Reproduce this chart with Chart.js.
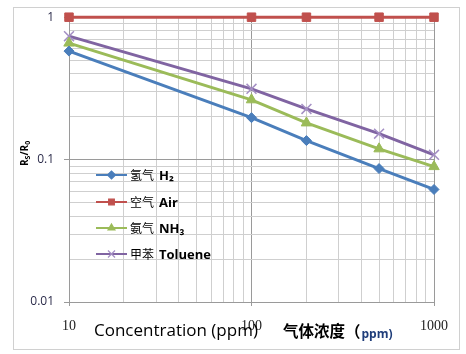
<!DOCTYPE html>
<html lang="zh">
<head>
<meta charset="UTF-8">
<title>Rs/R0 vs concentration</title>
<style>
    html, body { margin: 0; padding: 0; background: #ffffff; }
    #wrap { position: relative; width: 466px; height: 354px; }
    canvas { display: block; }
</style>
</head>
<body>
<div id="wrap"><canvas id="gasChart" width="466" height="354"></canvas></div>

<script src="https://cdn.jsdelivr.net/npm/chart.js"></script>
<script>
    // concentrations (ppm)
    const concentrations = [10, 100, 200, 500, 1000];
    // Rs/R0 per gas
    const h2Values = [0.578, 0.197, 0.136, 0.0865, 0.0617];
    const airValues = [1, 1, 1, 1, 1];
    const nh3Values = [0.658, 0.263, 0.181, 0.119, 0.0893];
    const tolueneValues = [0.736, 0.314, 0.227, 0.152, 0.108];

    const seriesCn = ['氢气', '空气', '氨气', '甲苯'];
    const seriesEn = ['H₂', 'Air', 'NH₃', 'Toluene'];

    const xTicks = [10, 20, 30, 40, 50, 60, 70, 80, 90, 100, 200, 300, 400, 500, 600, 700, 800, 900, 1000];
    const yTicks = [0.01, 0.02, 0.03, 0.04, 0.05, 0.06, 0.07, 0.08, 0.09,
                    0.1, 0.2, 0.3, 0.4, 0.5, 0.6, 0.7, 0.8, 0.9, 1];
    const xLabels = ['10', '100', '1000'];
    const yLabels = ['0.01', '0.1', '1'];

    function isMajor(v) {
        const l = Math.log10(v);
        return Math.abs(l - Math.round(l)) < 1e-9;
    }

    function toPoints(vals) {
        return concentrations.map((c, i) => ({ x: c, y: vals[i] }));
    }

    const styles = [
        { color: '#4a7ebb', point: 'rectRot', radius: 5, pointColor: '#4a7ebb' },
        { color: '#c0504d', point: 'rect', radius: 6, pointColor: '#c0504d' },
        { color: '#9bbb59', point: 'triangle', radius: 6, pointColor: '#9bbb59' },
        { color: '#8064a2', point: 'crossRot', radius: 7, pointColor: '#a48fc4' }
    ];
    const allValues = [h2Values, airValues, nh3Values, tolueneValues];

    const datasets = allValues.map((vals, i) => ({
        label: seriesCn[i] + ' ' + seriesEn[i],
        data: toPoints(vals),
        borderColor: styles[i].color,
        backgroundColor: styles[i].pointColor,
        pointBorderColor: styles[i].pointColor,
        pointBackgroundColor: styles[i].pointColor,
        pointStyle: styles[i].point,
        pointRadius: styles[i].radius,
        pointBorderWidth: i === 3 ? 1.5 : 1,
        borderWidth: 3,
        tension: 0,
        clip: false
    }));

    const extras = {
        id: 'extras',
        beforeDraw(chart) {
            const ctx = chart.ctx;
            ctx.save();
            ctx.fillStyle = '#ffffff';
            ctx.fillRect(0, 0, chart.width, chart.height);
            ctx.strokeStyle = '#d0d0d0';
            ctx.lineWidth = 1;
            ctx.strokeRect(13.5, 7.5, 446, 342);
            ctx.restore();
        },
        afterDraw(chart) {
            const ctx = chart.ctx;
            ctx.save();

            // x titles
            ctx.fillStyle = '#000000';
            ctx.textBaseline = 'alphabetic';
            ctx.textAlign = 'left';
            ctx.font = '17px "Open Sans", "Noto Sans", sans-serif';
            ctx.fillText('Concentration (ppm)', 94, 336);
            ctx.font = 'bold 15.5px "Noto Sans CJK SC", sans-serif';
            ctx.fillText('气体浓度（', 283, 337);
            let w = ctx.measureText('气体浓度（').width;
            ctx.fillStyle = '#1f3d7a';
            ctx.font = 'bold 12px "Open Sans", sans-serif';
            ctx.fillText('ppm)', 283 + w + 1, 338);

            // y title Rs/R0
            ctx.fillStyle = '#000000';
            ctx.translate(24, 152);
            ctx.rotate(-Math.PI / 2);
            ctx.textAlign = 'left';
            let xpos = -14;
            const parts = [['R', 10, 0], ['S', 7, 2], ['/R', 10, 0], ['0', 7, 2]];
            parts.forEach(p => {
                ctx.font = 'bold ' + p[1] + 'px "Open Sans", sans-serif';
                ctx.fillText(p[0], xpos, 4 + p[2]);
                xpos += ctx.measureText(p[0]).width;
            });
            ctx.setTransform(1, 0, 0, 1, 0, 0);

            // legend inside the plot
            const rows = [175, 202, 228, 254];
            chart.data.datasets.forEach((ds, i) => {
                const y = rows[i];
                ctx.strokeStyle = ds.borderColor;
                ctx.lineWidth = 2;
                ctx.beginPath();
                ctx.moveTo(96, y);
                ctx.lineTo(127, y);
                ctx.stroke();
                ctx.fillStyle = ds.pointBackgroundColor;
                ctx.strokeStyle = ds.pointBorderColor;
                ctx.lineWidth = 1.2;
                Chart.helpers.drawPoint(ctx, {
                    pointStyle: ds.pointStyle,
                    radius: ds.pointStyle === 'crossRot' ? 5 : 4,
                    rotation: 0,
                    borderWidth: 1.2
                }, 111.5, y);
                ctx.fillStyle = '#000000';
                ctx.textBaseline = 'middle';
                ctx.font = '12px "Noto Sans CJK SC", sans-serif';
                ctx.fillText(seriesCn[i], 130, y);
                const cw = ctx.measureText(seriesCn[i]).width;
                ctx.font = 'bold 13px "Open Sans", sans-serif';
                ctx.fillText(seriesEn[i], 130 + cw + 5, y + 1);
            });
            ctx.restore();
        }
    };

    const gridColor = c => isMajor(c.tick.value) ? '#9a9a9a' : '#cfcfcf';

    new Chart(document.getElementById('gasChart'), {
        type: 'line',
        data: { datasets: datasets },
        options: {
            responsive: false,
            animation: false,
            events: [],
            layout: { padding: { top: 16, right: 32, bottom: 0, left: 0 } },
            plugins: { legend: { display: false }, tooltip: { enabled: false } },
            scales: {
                x: {
                    type: 'logarithmic',
                    min: 10,
                    max: 1000,
                    afterBuildTicks: axis => { axis.ticks = xTicks.map(v => ({ value: v })); },
                    afterFit: axis => { axis.height = 52; },
                    grid: {
                        color: gridColor,
                        tickColor: c => isMajor(c.tick.value) ? '#9a9a9a' : 'rgba(0,0,0,0)',
                        tickLength: 4,
                        lineWidth: 1
                    },
                    border: { color: '#9a9a9a' },
                    ticks: {
                        autoSkip: false,
                        maxRotation: 0,
                        padding: 12,
                        color: '#222222',
                        font: { family: '"Liberation Serif", serif', size: 14 },
                        callback: v => xLabels.includes(String(v)) ? String(v) : ''
                    }
                },
                y: {
                    type: 'logarithmic',
                    min: 0.01,
                    max: 1,
                    afterBuildTicks: axis => { axis.ticks = yTicks.map(v => ({ value: v })); },
                    afterFit: axis => { axis.width = 69; },
                    grid: {
                        color: gridColor,
                        tickColor: c => isMajor(c.tick.value) ? '#9a9a9a' : 'rgba(0,0,0,0)',
                        tickLength: 5,
                        lineWidth: 1
                    },
                    border: { color: '#9a9a9a' },
                    ticks: {
                        autoSkip: false,
                        padding: 10,
                        color: '#2b2b4a',
                        font: { family: '"Open Sans", sans-serif', size: 12 },
                        callback: v => {
                            const s = String(Number(v.toPrecision(3)));
                            return yLabels.includes(s) ? s : '';
                        }
                    }
                }
            }
        },
        plugins: [extras]
    });
</script>
</body>
</html>
